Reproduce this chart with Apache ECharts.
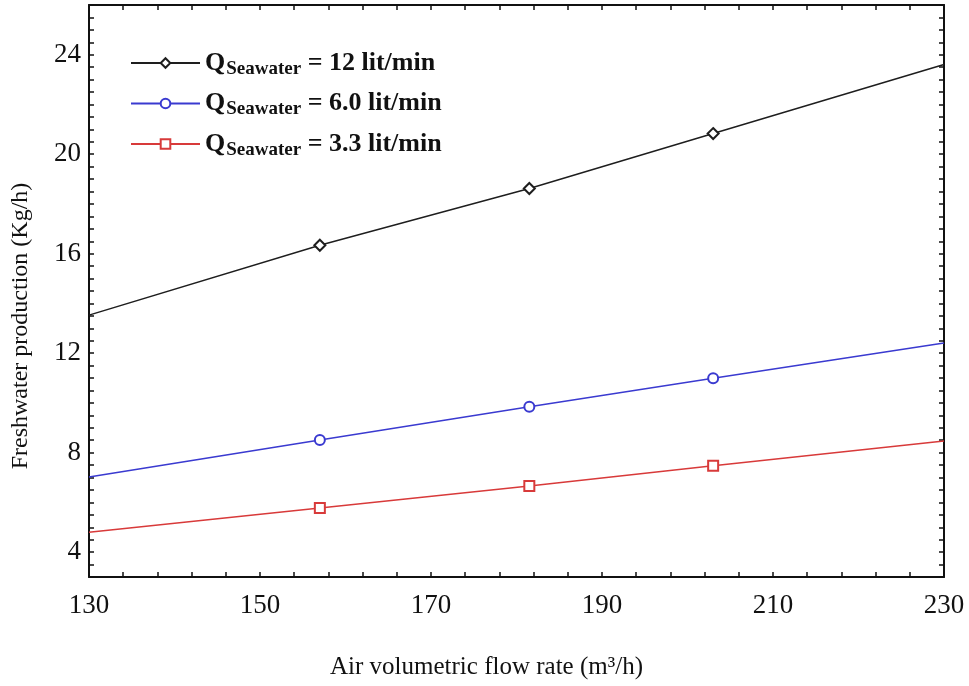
<!DOCTYPE html>
<html>
<head>
<meta charset="utf-8">
<script src="https://cdn.jsdelivr.net/npm/echarts@6/dist/echarts.min.js"></script>
<style>
html,body{margin:0;padding:0;background:#fff;}
#chart{width:969px;height:686px;}
</style>
</head>
<body>
<div id="chart"></div>
<script>
// ---- data ----
const airFlow = [130, 157, 181.5, 203, 230];
const markerShown = [false, true, true, true, false];
const q12 = [13.53, 16.34, 18.62, 20.83, 23.61];
const q60 = [7.02, 8.51, 9.85, 10.99, 12.41];
const q33 = [4.80, 5.77, 6.66, 7.47, 8.47];
const seriesLabels = ['= 12 lit/min', '= 6.0 lit/min', '= 3.3 lit/min'];
const xTickLabels = [130, 150, 170, 190, 210, 230];
const yTickLabels = [4, 8, 12, 16, 20, 24];

const seriesValues = [q12, q60, q33];
const colors = ['#1e1e1e', '#3a3ad0', '#d83a3a'];
const symbols = ['emptyDiamond', 'emptyCircle', 'emptyRect'];
const symbolSizes = [11, 10, 10];
const serif = '"Liberation Serif", "Times New Roman", serif';

const chart = echarts.init(document.getElementById('chart'), null, {renderer: 'canvas'});

const series = seriesValues.map((vals, i) => ({
  type: 'line',
  name: 'Q' + i,
  xAxisIndex: 0,
  yAxisIndex: 0,
  color: colors[i],
  symbol: symbols[i],
  symbolSize: symbolSizes[i],
  lineStyle: {color: colors[i], width: 1.5},
  itemStyle: {color: colors[i], borderWidth: 1.5},
  data: airFlow.map((x, j) => ({value: [x, vals[j]], symbol: markerShown[j] ? symbols[i] : 'none'})),
  z: 3
}));

const tickStyle = {show: true, inside: true, length: 5, lineStyle: {color: '#111', width: 1.5}};
const lineStyleAxis = {show: true, onZero: false, lineStyle: {color: '#111', width: 2}};

const option = {
  animation: false,
  backgroundColor: '#fff',
  grid: {left: 89, right: 25, top: 5, bottom: 109, containLabel: false},
  legend: {
    orient: 'vertical',
    left: 125,
    top: 45,
    itemWidth: 69,
    itemHeight: 12,
    itemGap: 12,
    data: series.map(s => s.name),
    formatter: name => {
      const i = Number(name.slice(1));
      return '{q|Q}{s|Seawater}{t| ' + seriesLabels[i] + '}';
    },
    textStyle: {
      fontFamily: serif,
      color: '#111',
      rich: {
        q: {fontFamily: serif, fontSize: 26, fontWeight: 'bold', color: '#111'},
        s: {fontFamily: serif, fontSize: 19, fontWeight: 'bold', color: '#111', padding: [12, 0, 0, 1]},
        t: {fontFamily: serif, fontSize: 26, fontWeight: 'bold', color: '#111'}
      }
    }
  },
  xAxis: [
    {
      type: 'value', min: 130, max: 230, interval: 10, position: 'bottom',
      axisLine: lineStyleAxis,
      axisTick: {show: false},
      splitLine: {show: false},
      axisLabel: {
        formatter: v => xTickLabels.includes(v) ? String(v) : '',
        fontFamily: serif, fontSize: 27, color: '#111', margin: 15
      },
      name: 'Air volumetric flow rate (m\u00B3/h)',
      nameLocation: 'middle', nameGap: 78,
      nameTextStyle: {fontFamily: serif, fontSize: 25, color: '#111', padding: [0, 60, 0, 0]}
    },
    {
      // tick marks every 4 m3/h (counted from 130)
      type: 'value', min: 0, max: 100, interval: 4, position: 'bottom',
      axisLine: {show: false, onZero: false},
      axisTick: tickStyle,
      axisLabel: {show: false}, splitLine: {show: false}
    },
    {
      type: 'value', min: 0, max: 100, interval: 4, position: 'top',
      axisLine: lineStyleAxis,
      axisTick: tickStyle,
      axisLabel: {show: false}, splitLine: {show: false}
    }
  ],
  yAxis: [
    {
      type: 'value', min: 3, max: 26, interval: 0.5, position: 'left',
      axisLine: lineStyleAxis,
      axisTick: tickStyle,
      splitLine: {show: false},
      axisLabel: {
        formatter: v => yTickLabels.includes(v) ? String(v) : '',
        fontFamily: serif, fontSize: 27, color: '#111', margin: 8
      },
      name: 'Freshwater production (Kg/h)',
      nameLocation: 'middle', nameGap: 56,
      nameTextStyle: {fontFamily: serif, fontSize: 24, color: '#111', padding: [0, 70, 0, 0]}
    },
    {
      type: 'value', min: 3, max: 26, interval: 0.5, position: 'right',
      axisLine: lineStyleAxis,
      axisTick: tickStyle,
      axisLabel: {show: false}, splitLine: {show: false}
    }
  ],
  series: series
};
chart.setOption(option);
</script>
</body>
</html>
